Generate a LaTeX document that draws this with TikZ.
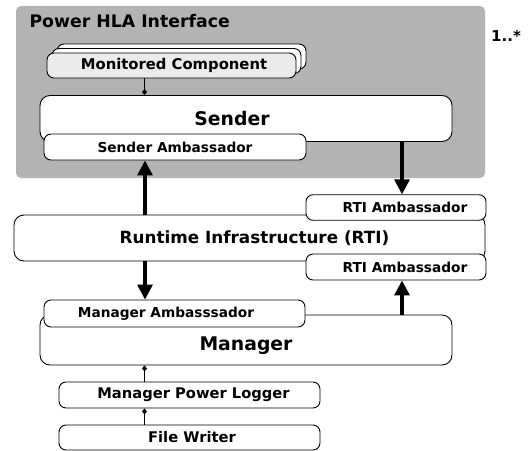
\documentclass[tikz,border=0pt]{standalone}
\usepackage{fontspec}
\setmainfont{DejaVu Sans}
\usetikzlibrary{arrows.meta}
\definecolor{panelgray}{HTML}{B3B3B3}
\definecolor{compgray}{HTML}{EBEBEB}
\tikzset{
  box/.style={draw=black, line width=0.9pt, fill=white, rounded corners=7pt, inner sep=0pt},
  bigbox/.style={box, rounded corners=10pt},
  small/.style={font=\bfseries\fontsize{13.7}{16}\selectfont},
  mid/.style={font=\bfseries\fontsize{14.7}{17}\selectfont},
  large/.style={font=\bfseries\fontsize{18.8}{22}\selectfont},
  flow/.style={line width=3.2pt, -{Triangle[length=15pt,width=15pt]}},
  link/.style={line width=1.1pt, -{Diamond[length=6pt,width=5pt]}}
}
\begin{document}
\begin{tikzpicture}[x=1pt,y=-1pt]
\useasboundingbox (0,0) rectangle (530,450);

% container panel
\node[fill=panelgray, rounded corners=5pt, minimum width=469pt, minimum height=172pt, inner sep=0pt] (panel) at (250.5,92) {};
\node[anchor=west, font=\bfseries\fontsize{17.3}{20}\selectfont] (paneltitle) at (26,21) {Power HLA Interface};
\node[font=\bfseries\fontsize{15}{18}\selectfont] (mult) at (506,36) {1..*};

% stacked monitored components
\node[box, minimum width=249pt, minimum height=25pt] (mcback) at (181.5,56.5) {};
\node[box, minimum width=249pt, minimum height=25pt] (mcmid) at (176.5,61) {};
\node[box, fill=compgray, minimum width=249pt, minimum height=25pt,
      label={[font=\bfseries\fontsize{14.8}{17}\selectfont, xshift=2.5pt]center:Monitored Component}] (mc) at (171.5,65.5) {};

% sender and its ambassador
\node[bigbox, minimum width=412pt, minimum height=46pt,
      label={[large, xshift=-14pt, yshift=0.5pt]center:Sender}] (sender) at (246,118.5) {};
\node[box, small, minimum width=262pt, minimum height=26pt] (sendamb) at (175,147) {Sender Ambassador};

% runtime infrastructure and its ambassadors
\node[bigbox, minimum width=471pt, minimum height=46pt,
      label={[font=\bfseries\fontsize{16.8}{19}\selectfont, xshift=5pt]center:Runtime Infrastructure (RTI)}] (rti) at (249.5,238) {};
\node[box, minimum width=180pt, minimum height=25.5pt,
      label={[small, xshift=9pt]center:RTI Ambassador}] (rtiambtop) at (396,207.5) {};
\node[box, minimum width=180pt, minimum height=26pt,
      label={[small, xshift=9pt]center:RTI Ambassador}] (rtiambbot) at (396,267) {};

% manager and its ambassador
\node[bigbox, minimum width=412pt, minimum height=50pt,
      label={[large, yshift=-6pt]center:Manager}] (manager) at (246,340) {};
\node[box, minimum width=261pt, minimum height=27pt,
      label={[small, xshift=-8.5pt]center:Manager Ambasssador}] (managamb) at (174.5,313.5) {};

% logging chain
\node[box, minimum width=261pt, minimum height=26pt,
      label={[mid, xshift=4pt]center:Manager Power Logger}] (logger) at (189.5,395) {};
\node[box, minimum width=261pt, minimum height=25pt,
      label={[mid, xshift=2.5pt]center:File Writer}] (writer) at (189.5,437.5) {};

% connectors
\draw[link] (mc.south -| 144.5,0) -- (sender.north -| 144.5,0);
\draw[link] (logger.north -| 144.5,0) -- (manager.south -| 144.5,0);
\draw[link] (writer.north -| 144.5,0) -- (logger.south -| 144.5,0);

\draw[flow] (rti.north -| 145,0) -- (sendamb.south -| 145,0);
\draw[flow] (sender.south -| 402,0) -- (rtiambtop.north -| 402,0);
\draw[flow] (rti.south -| 145,0) -- (managamb.north -| 145,0);
\draw[flow] (manager.north -| 402,0) -- (rtiambbot.south -| 402,0);
\end{tikzpicture}
\end{document}
